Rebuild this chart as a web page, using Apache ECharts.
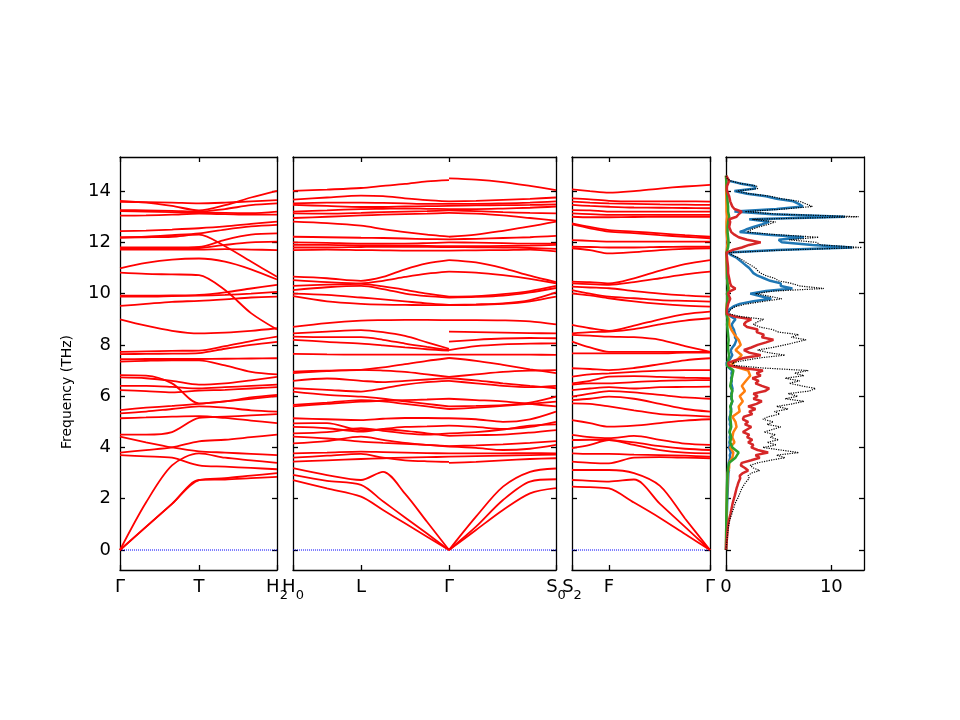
<!DOCTYPE html>
<html>
<head>
<meta charset="utf-8">
<script src="https://cdn.jsdelivr.net/npm/echarts@6/dist/echarts.min.js"></script>
<style>html,body{margin:0;padding:0;background:#fff}#main{width:960px;height:720px}</style>
</head>
<body>
<div id="main"></div>
<script>
// path positions and high-symmetry labels per panel (subscript after "_")
var kGTH = [0, 26, 52, 79, 105, 131, 157];
var tickGTH = [0, 79, 157];
var labGTH = ['Γ', 'T', 'H_2'];

var kHLGS = [0, 34, 68, 90, 112, 134, 156, 156, 183, 210, 237, 263]; // Γ twice (left/right limit)
var tickHLGS = [0, 68, 156, 263];
var labHLGS = ['H_0', 'L', 'Γ', 'S_0'];

var kSFG = [0, 18, 37, 62, 88, 113, 138];
var tickSFG = [0, 37, 138];
var labSFG = ['S_2', 'F', 'Γ'];

var freqTicks = [0, 2, 4, 6, 8, 10, 12, 14];
var dosTicks = [0, 10];

// bands, THz
var bandsGTH = [
  [13.62, 13.55, 13.42, 13.25, 13.45, 13.75, 14.01],
  [13.58, 13.57, 13.55, 13.52, 13.55, 13.6, 13.65],
  [13.26, 13.25, 13.23, 13.2, 13.3, 13.45, 13.52],
  [13.22, 13.2, 13.18, 13.16, 13.15, 13.14, 13.2],
  [13.04, 13.05, 13.08, 13.12, 13.1, 13.08, 13.08],
  [12.44, 12.46, 12.5, 12.55, 12.62, 12.72, 12.81],
  [12.19, 12.22, 12.28, 12.35, 12.5, 12.62, 12.68],
  [12.19, 12.2, 12.22, 12.3, 11.85, 11.25, 10.66],
  [11.8, 11.8, 11.8, 11.82, 12.1, 12.3, 12.35],
  [11.75, 11.75, 11.76, 11.78, 11.9, 12.0, 12.03],
  [11.72, 11.72, 11.72, 11.72, 11.74, 11.72, 11.7],
  [10.99, 11.2, 11.33, 11.37, 11.25, 10.95, 10.55],
  [10.82, 10.77, 10.75, 10.72, 10.14, 9.24, 8.6],
  [9.92, 9.92, 9.93, 9.95, 10.05, 10.2, 10.34],
  [9.88, 9.88, 9.9, 9.92, 9.95, 10.0, 10.07],
  [9.52, 9.6, 9.68, 9.72, 9.78, 9.85, 9.88],
  [9.0, 8.75, 8.55, 8.45, 8.48, 8.55, 8.65],
  [7.73, 7.75, 7.77, 7.78, 7.95, 8.15, 8.32],
  [7.64, 7.65, 7.66, 7.68, 7.85, 8.0, 8.12],
  [7.44, 7.45, 7.45, 7.45, 7.46, 7.47, 7.48],
  [7.35, 7.38, 7.4, 7.4, 7.2, 6.95, 6.85],
  [6.82, 6.8, 6.5, 5.72, 5.8, 5.95, 6.05],
  [6.73, 6.7, 6.6, 6.45, 6.5, 6.62, 6.75],
  [6.4, 6.4, 6.36, 6.3, 6.35, 6.4, 6.45],
  [6.24, 6.2, 6.15, 6.22, 6.25, 6.3, 6.35],
  [5.46, 5.55, 5.62, 5.7, 5.8, 5.9, 6.0],
  [5.33, 5.4, 5.5, 5.6, 5.55, 5.45, 5.4],
  [5.14, 5.17, 5.2, 5.22, 5.15, 5.05, 4.95],
  [4.5, 4.5, 4.6, 5.15, 5.2, 5.25, 5.3],
  [4.42, 4.2, 4.0, 3.85, 3.8, 3.75, 3.7],
  [3.8, 3.9, 4.0, 4.24, 4.3, 4.4, 4.5],
  [3.7, 3.65, 3.6, 3.3, 3.25, 3.2, 3.15],
  [0, 1.85, 3.3, 3.77, 3.6, 3.5, 3.4],
  [0, 0.9, 1.8, 2.73, 2.8, 2.9, 3.0],
  [0, 0.9, 1.8, 2.73, 2.75, 2.8, 2.85]
];

var bandsHLGS = [
  [14.01, 14.06, 14.12, 14.2, 14.28, 14.38, 14.43, 14.5, 14.45, 14.35, 14.2, 14.04],
  [13.67, 13.75, 13.82, 13.8, 13.72, 13.65, 13.6, 13.6, 13.62, 13.66, 13.7, 13.75],
  [13.52, 13.55, 13.55, 13.54, 13.52, 13.5, 13.5, 13.5, 13.5, 13.52, 13.55, 13.6],
  [13.46, 13.42, 13.38, 13.38, 13.4, 13.41, 13.42, 13.42, 13.44, 13.45, 13.46, 13.48],
  [13.2, 13.25, 13.3, 13.31, 13.32, 13.31, 13.3, 13.3, 13.3, 13.32, 13.35, 13.4],
  [13.13, 13.12, 13.15, 13.18, 13.2, 13.22, 13.25, 13.25, 13.22, 13.18, 13.15, 13.13],
  [12.95, 13.0, 13.05, 13.08, 13.1, 13.12, 13.15, 13.15, 13.12, 13.05, 12.95, 12.85],
  [12.81, 12.75, 12.65, 12.52, 12.4, 12.3, 12.22, 12.22, 12.3, 12.45, 12.62, 12.81],
  [12.22, 12.2, 12.18, 12.17, 12.15, 12.13, 12.12, 12.12, 12.14, 12.17, 12.2, 12.25],
  [12.0, 11.98, 11.95, 11.95, 11.95, 11.97, 12.0, 12.0, 11.99, 11.97, 11.95, 11.95],
  [11.9, 11.9, 11.88, 11.88, 11.87, 11.86, 11.85, 11.85, 11.85, 11.86, 11.87, 11.9],
  [11.8, 11.8, 11.82, 11.83, 11.83, 11.83, 11.82, 11.82, 11.81, 11.8, 11.78, 11.75],
  [11.7, 11.72, 11.7, 11.69, 11.68, 11.68, 11.68, 11.68, 11.69, 11.7, 11.72, 11.65],
  [10.66, 10.6, 10.5, 10.65, 10.95, 11.18, 11.31, 11.31, 11.22, 11.0, 10.7, 10.45],
  [10.53, 10.45, 10.4, 10.5, 10.65, 10.78, 10.86, 10.86, 10.82, 10.72, 10.58, 10.4],
  [10.3, 10.35, 10.38, 10.28, 10.15, 10.0, 9.88, 9.88, 9.9, 9.98, 10.1, 10.3],
  [10.14, 10.25, 10.3, 10.18, 10.0, 9.9, 9.85, 9.85, 9.87, 9.92, 10.05, 10.22],
  [10.0, 9.95, 9.85, 9.78, 9.7, 9.62, 9.56, 9.56, 9.58, 9.62, 9.75, 10.05],
  [9.9, 9.7, 9.6, 9.57, 9.56, 9.55, 9.55, 9.55, 9.56, 9.6, 9.7, 9.88],
  [8.7, 8.85, 8.95, 8.97, 8.98, 8.98, 8.97, 8.97, 8.97, 8.96, 8.92, 8.8],
  [8.45, 8.52, 8.58, 8.5, 8.35, 8.1, 7.85, 8.52, 8.5, 8.48, 8.46, 8.45],
  [8.32, 8.3, 8.3, 8.2, 8.05, 7.92, 7.8, 8.13, 8.2, 8.25, 8.27, 8.26],
  [8.2, 8.12, 8.05, 7.98, 7.9, 7.83, 7.78, 7.8, 7.95, 8.02, 8.05, 8.06],
  [7.65, 7.63, 7.62, 7.62, 7.62, 7.62, 7.62, 7.62, 7.62, 7.62, 7.62, 7.61],
  [6.96, 7.0, 7.03, 7.12, 7.25, 7.38, 7.49, 7.49, 7.38, 7.22, 7.05, 6.9],
  [6.9, 6.98, 7.03, 7.0, 6.95, 6.85, 6.75, 6.75, 6.85, 6.95, 7.0, 7.02],
  [6.6, 6.69, 6.6, 6.55, 6.6, 6.65, 6.7, 6.7, 6.62, 6.5, 6.4, 6.31],
  [6.31, 6.25, 6.18, 6.3, 6.45, 6.55, 6.6, 6.6, 6.5, 6.4, 6.35, 6.4],
  [6.18, 6.05, 5.98, 5.9, 5.8, 5.7, 5.6, 5.6, 5.62, 5.65, 5.75, 5.98],
  [5.66, 5.75, 5.85, 5.8, 5.7, 5.6, 5.5, 5.5, 5.55, 5.62, 5.7, 5.79],
  [5.6, 5.7, 5.79, 5.82, 5.85, 5.87, 5.9, 5.9, 5.85, 5.8, 5.7, 5.6],
  [5.14, 5.1, 5.07, 5.12, 5.15, 5.15, 5.14, 5.14, 5.1, 5.0, 5.1, 5.4],
  [4.94, 4.95, 4.68, 4.7, 4.65, 4.55, 4.45, 4.45, 4.48, 4.5, 4.58, 4.68],
  [4.8, 4.75, 4.62, 4.72, 4.8, 4.82, 4.85, 4.85, 4.8, 4.72, 4.8, 5.0],
  [4.55, 4.6, 4.75, 4.65, 4.55, 4.5, 4.55, 4.55, 4.6, 4.7, 4.85, 4.9],
  [4.42, 4.35, 4.23, 4.18, 4.14, 4.1, 4.05, 4.05, 4.08, 4.12, 4.18, 4.25],
  [4.16, 4.25, 4.42, 4.3, 4.18, 4.1, 4.03, 4.03, 3.98, 3.9, 3.95, 4.1],
  [3.77, 3.8, 3.84, 3.82, 3.8, 3.78, 3.77, 3.77, 3.77, 3.77, 3.78, 3.77],
  [3.6, 3.68, 3.75, 3.6, 3.5, 3.46, 3.44, 3.4, 3.44, 3.5, 3.55, 3.58],
  [3.45, 3.5, 3.55, 3.58, 3.6, 3.62, 3.64, 3.64, 3.66, 3.68, 3.7, 3.72],
  [3.19, 2.92, 2.73, 3.05, 2.2, 1.1, 0, 0, 1.3, 2.47, 3.05, 3.18],
  [2.93, 2.7, 2.54, 1.9, 1.27, 0.64, 0, 0, 0.91, 1.95, 2.67, 2.76],
  [2.73, 2.4, 2.08, 1.56, 1.04, 0.52, 0, 0, 0.78, 1.56, 2.21, 2.41]
];

var bandsSFG = [
  [14.07, 14.0, 13.94, 14.0, 14.1, 14.18, 14.24],
  [13.72, 13.68, 13.62, 13.6, 13.6, 13.6, 13.59],
  [13.59, 13.55, 13.52, 13.5, 13.48, 13.47, 13.46],
  [13.46, 13.42, 13.39, 13.36, 13.35, 13.34, 13.33],
  [13.26, 13.25, 13.2, 13.2, 13.2, 13.2, 13.2],
  [13.13, 13.1, 13.07, 13.07, 13.07, 13.07, 13.07],
  [13.0, 12.98, 12.98, 12.99, 13.0, 13.0, 13.0],
  [12.74, 12.6, 12.48, 12.42, 12.35, 12.28, 12.22],
  [12.7, 12.55, 12.42, 12.36, 12.28, 12.22, 12.16],
  [12.09, 12.06, 12.03, 12.03, 12.03, 12.03, 12.03],
  [11.83, 11.82, 11.8, 11.8, 11.82, 11.83, 11.83],
  [11.77, 11.7, 11.57, 11.62, 11.7, 11.75, 11.77],
  [10.47, 10.45, 10.4, 10.6, 10.9, 11.15, 11.31],
  [10.4, 10.37, 10.34, 10.45, 10.6, 10.75, 10.86],
  [10.27, 10.24, 10.21, 10.1, 10.0, 9.93, 9.88],
  [10.14, 10.0, 9.88, 9.82, 9.75, 9.72, 9.69],
  [10.01, 9.93, 9.82, 9.7, 9.6, 9.53, 9.49],
  [8.78, 8.65, 8.55, 8.75, 9.0, 9.2, 9.3],
  [8.45, 8.5, 8.52, 8.62, 8.8, 8.95, 9.04],
  [8.39, 8.36, 8.32, 8.3, 8.2, 7.95, 7.73],
  [8.13, 7.9, 7.73, 7.73, 7.73, 7.73, 7.73],
  [7.67, 7.67, 7.67, 7.67, 7.67, 7.7, 7.7],
  [7.09, 7.06, 7.02, 7.1, 7.25, 7.4, 7.48],
  [6.76, 6.85, 6.89, 6.95, 7.0, 7.02, 7.02],
  [6.5, 6.6, 6.76, 6.78, 6.75, 6.72, 6.7],
  [6.45, 6.5, 6.5, 6.55, 6.6, 6.62, 6.63],
  [6.24, 6.3, 6.35, 6.3, 6.35, 6.36, 6.37],
  [5.98, 6.1, 6.2, 6.15, 6.05, 5.95, 5.9],
  [5.85, 5.9, 5.98, 5.9, 5.7, 5.5, 5.4],
  [5.72, 5.7, 5.6, 5.45, 5.3, 5.25, 5.2],
  [5.07, 4.95, 4.81, 4.85, 4.95, 5.05, 5.1],
  [4.49, 4.4, 4.36, 4.45, 4.3, 4.15, 4.1],
  [4.29, 4.3, 4.29, 4.2, 4.05, 3.95, 3.9],
  [3.97, 4.1, 4.29, 4.1, 3.9, 3.8, 3.77],
  [3.77, 3.75, 3.75, 3.72, 3.7, 3.68, 3.64],
  [3.45, 3.4, 3.38, 3.6, 3.62, 3.6, 3.58],
  [3.12, 3.12, 3.12, 3.0, 2.5, 1.23, 0],
  [2.73, 2.7, 2.67, 2.75, 1.8, 0.9, 0],
  [2.47, 2.45, 2.4, 1.85, 1.25, 0.62, 0]
];

// density of states: fine grid (0.1 THz) for total, blue and red
var dosFreqFine = [0, 0.1, 0.2, 0.3, 0.4, 0.5, 0.6, 0.7, 0.8, 0.9, 1.0, 1.1, 1.2, 1.3, 1.4, 1.5, 1.6, 1.7, 1.8, 1.9,
  2.0, 2.1, 2.2, 2.3, 2.4, 2.5, 2.6, 2.7, 2.8, 2.9, 3.0, 3.1, 3.2, 3.3, 3.4, 3.5, 3.6, 3.7, 3.8, 3.9,
  4.0, 4.1, 4.2, 4.3, 4.4, 4.5, 4.6, 4.7, 4.8, 4.9, 5.0, 5.1, 5.2, 5.3, 5.4, 5.5, 5.6, 5.7, 5.8, 5.9,
  6.0, 6.1, 6.2, 6.3, 6.4, 6.5, 6.6, 6.7, 6.8, 6.9, 7.0, 7.1, 7.2, 7.3, 7.4, 7.5, 7.6, 7.7, 7.8, 7.9,
  8.0, 8.1, 8.2, 8.3, 8.4, 8.5, 8.6, 8.7, 8.8, 8.9, 9.0, 9.1, 9.2, 9.3, 9.4, 9.5, 9.6, 9.7, 9.8, 9.9,
  10.0, 10.1, 10.2, 10.3, 10.4, 10.5, 10.6, 10.7, 10.8, 10.9, 11.0, 11.1, 11.2, 11.3, 11.4, 11.5, 11.6, 11.7, 11.8, 11.9,
  12.0, 12.1, 12.2, 12.3, 12.4, 12.5, 12.6, 12.7, 12.8, 12.9, 13.0, 13.1, 13.2, 13.3, 13.4, 13.5, 13.6, 13.7, 13.8, 13.9,
  14.0, 14.1, 14.2, 14.3, 14.4, 14.5, 14.6];
var dosTotal = [0, 0.02, 0.05, 0.07, 0.1, 0.12, 0.15, 0.17, 0.2, 0.23, 0.27, 0.32, 0.38, 0.45, 0.55, 0.62, 0.7, 0.78, 0.85, 0.95,
  1.1, 1.2, 1.3, 1.4, 1.5, 1.65, 1.8, 2.0, 2.2, 2.1, 2.4, 3.2, 2.6, 2.3, 3.0, 4.2, 5.6, 4.8, 6.9, 5.2,
  3.5, 4.8, 3.9, 5.0, 4.2, 4.7, 3.6, 4.4, 5.2, 3.9, 4.5, 3.5, 4.0, 5.1, 4.6, 5.9, 4.8, 6.3, 7.4, 5.6,
  6.8, 5.9, 7.9, 8.5, 7.2, 6.0, 7.0, 5.6, 7.4, 6.5, 7.8, 3.5, 0.8, 0.6, 1.8, 3.3, 5.6, 4.0, 3.0, 4.4,
  5.6, 6.6, 7.6, 6.2, 6.9, 5.0, 4.4, 3.2, 2.6, 3.0, 3.6, 1.5, 0.4, 0.3, 0.5, 0.9, 2.0, 3.6, 5.3, 4.1,
  2.8, 4.5, 9.3, 7.0, 6.2, 5.0, 4.6, 3.8, 3.3, 3.0, 2.8, 2.4, 2.0, 1.6, 1.2, 0.6, 0.3, 5.5, 12.9, 9.0,
  8.6, 6.0, 8.8, 4.8, 2.0, 2.4, 3.1, 4.0, 4.7, 2.5, 12.6, 5.0, 1.8, 5.5, 8.2, 7.6, 7.0, 5.3, 4.2, 2.2,
  1.0, 3.0, 2.9, 1.4, 0.4, 0.1, 0];
var dosBlue = [0, 0.005, 0.01, 0.015, 0.02, 0.025, 0.03, 0.035, 0.04, 0.045, 0.05, 0.055, 0.06, 0.07, 0.08, 0.09, 0.1, 0.105, 0.11, 0.12,
  0.13, 0.14, 0.15, 0.16, 0.17, 0.18, 0.19, 0.2, 0.21, 0.22, 0.23, 0.28, 0.25, 0.24, 0.26, 0.33, 0.4, 0.36, 0.45, 0.38,
  0.3, 0.36, 0.32, 0.38, 0.35, 0.4, 0.33, 0.37, 0.45, 0.36, 0.4, 0.32, 0.35, 0.45, 0.42, 0.5, 0.44, 0.52, 0.6, 0.5,
  0.55, 0.5, 0.58, 0.62, 0.56, 0.5, 0.55, 0.48, 0.56, 0.52, 0.6, 0.3, 0.08, 0.06, 0.3, 0.45, 0.6, 0.5, 0.45, 0.6,
  0.8, 0.9, 1.0, 0.85, 0.9, 0.8, 0.75, 0.6, 0.55, 0.7, 0.9, 0.5, 0.2, 0.2, 0.35, 0.7, 1.3, 2.6, 4.3, 3.3,
  2.3, 3.8, 6.3, 5.2, 5.2, 4.2, 3.6, 3.0, 2.6, 2.4, 2.2, 1.9, 1.6, 1.3, 1.0, 0.5, 0.2, 4.8, 12.0, 8.2,
  5.3, 5.0, 7.4, 4.0, 1.3, 1.9, 2.6, 3.4, 4.1, 2.2, 11.3, 4.4, 0.8, 4.8, 7.3, 6.9, 6.4, 4.8, 3.8, 2.0,
  0.8, 2.8, 2.7, 1.3, 0.3, 0.1, 0];
var dosRed = [0, 0.02, 0.04, 0.06, 0.08, 0.1, 0.12, 0.14, 0.16, 0.18, 0.21, 0.25, 0.3, 0.36, 0.42, 0.47, 0.52, 0.57, 0.62, 0.68,
  0.75, 0.82, 0.88, 0.94, 1.0, 1.08, 1.15, 1.25, 1.35, 1.3, 1.6, 2.1, 1.8, 1.4, 1.5, 2.4, 3.2, 2.8, 4.0, 3.0,
  2.4, 2.6, 2.1, 2.5, 2.0, 2.2, 1.6, 2.0, 2.4, 1.8, 2.1, 1.6, 1.7, 2.5, 2.2, 2.8, 2.1, 2.9, 3.4, 2.6,
  3.0, 2.6, 3.7, 4.1, 3.4, 2.8, 3.1, 2.5, 3.3, 2.9, 3.5, 1.6, 0.3, 0.2, 0.9, 1.8, 3.3, 2.2, 1.7, 2.4,
  3.0, 3.8, 4.5, 3.4, 3.6, 2.9, 3.0, 2.0, 1.7, 1.9, 2.4, 0.9, 0.1, 0.08, 0.1, 0.15, 0.2, 0.3, 0.4, 0.3,
  0.2, 0.4, 0.9, 0.5, 0.4, 0.35, 0.3, 0.25, 0.2, 0.2, 0.2, 0.18, 0.15, 0.12, 0.1, 0.07, 0.05, 0.6, 1.5, 2.2,
  3.3, 2.0, 1.2, 0.8, 0.5, 0.4, 0.3, 0.35, 0.4, 0.3, 1.0, 1.2, 1.5, 0.8, 0.6, 0.5, 0.4, 0.35, 0.3, 0.2,
  0.1, 0.08, 0.1, 0.2, 0.3, 0.15, 0.05];

// coarse grid (0.2 THz) for orange and green
var dosFreq = [0, 0.2, 0.4, 0.6, 0.8, 1.0, 1.2, 1.4, 1.6, 1.8, 2.0, 2.2, 2.4, 2.6, 2.8, 3.0, 3.2, 3.4, 3.6, 3.8,
  4.0, 4.2, 4.4, 4.6, 4.8, 5.0, 5.2, 5.4, 5.6, 5.8, 6.0, 6.2, 6.4, 6.6, 6.8, 7.0, 7.2, 7.4, 7.6, 7.8,
  8.0, 8.2, 8.4, 8.6, 8.8, 9.0, 9.2, 9.4, 9.6, 9.8, 10.0, 10.2, 10.4, 10.6, 10.8, 11.0, 11.2, 11.4, 11.6, 11.8,
  12.0, 12.2, 12.4, 12.6, 12.8, 13.0, 13.2, 13.4, 13.6, 13.8, 14.0, 14.2, 14.4, 14.6];
var dosOrange = [0, 0.005, 0.01, 0.015, 0.02, 0.03, 0.04, 0.05, 0.06, 0.07, 0.08, 0.09, 0.1, 0.12, 0.14, 0.16, 0.3, 0.3, 0.6, 0.7,
  0.4, 0.8, 0.6, 0.7, 1.0, 0.9, 0.6, 1.3, 1.2, 1.6, 1.3, 1.8, 1.5, 1.9, 2.3, 2.1, 0.4, 1.0, 1.5, 0.9,
  1.4, 1.2, 0.8, 0.5, 0.3, 0.3, 0.05, 0.05, 0.08, 0.15, 0.1, 0.3, 0.15, 0.1, 0.08, 0.06, 0.05, 0.04, 0.03, 0.1,
  0.15, 0.1, 0.05, 0.05, 0.05, 0.1, 0.05, 0.05, 0.04, 0.03, 0.02, 0.02, 0.02, 0];
var dosGreen = [0, 0.005, 0.01, 0.015, 0.02, 0.025, 0.03, 0.04, 0.05, 0.06, 0.07, 0.08, 0.09, 0.1, 0.12, 0.15, 0.2, 0.3, 0.9, 1.2,
  0.6, 0.4, 0.5, 0.35, 0.5, 0.45, 0.4, 0.5, 0.4, 0.6, 0.5, 0.6, 0.4, 0.5, 0.6, 0.7, 0.1, 0.2, 0.3, 0.2,
  0.2, 0.25, 0.2, 0.15, 0.1, 0.15, 0.05, 0.05, 0.1, 0.15, 0.1, 0.2, 0.15, 0.1, 0.1, 0.1, 0.08, 0.07, 0.05, 0.2,
  0.25, 0.2, 0.15, 0.15, 0.2, 0.3, 0.2, 0.2, 0.15, 0.12, 0.08, 0.05, 0.03, 0];

var FONT = 'DejaVu Sans';
var YMIN = -0.78, YMAX = 15.33;

var panels = [
  { left: 120, width: 157, k: kGTH, ticks: tickGTH, labels: labGTH, bands: bandsGTH, split: 0 },
  { left: 293, width: 263, k: kHLGS, ticks: tickHLGS, labels: labHLGS, bands: bandsHLGS, split: 7 },
  { left: 572, width: 138, k: kSFG, ticks: tickSFG, labels: labSFG, bands: bandsSFG, split: 0 }
];

var grids = [], xAxes = [], yAxes = [], series = [];

function frameAxis(extra) {
  var a = {
    axisLine: { show: true, onZero: false, lineStyle: { color: '#000', width: 1.3 } },
    axisTick: { show: true, inside: true, length: 5, lineStyle: { color: '#000', width: 1.3 } },
    axisLabel: { show: false },
    splitLine: { show: false }
  };
  for (var key in extra) a[key] = extra[key];
  return a;
}

function addYAxes(g, withLabels) {
  var left = frameAxis({ type: 'value', gridIndex: g, position: 'left', min: YMIN, max: YMAX });
  left.axisTick.customValues = freqTicks;
  if (withLabels) {
    left.axisLabel = { show: true, customValues: freqTicks, color: '#000', fontSize: 18, fontFamily: FONT, margin: 9,
      formatter: function (v) { return String(v); } };
  }
  var right = frameAxis({ type: 'value', gridIndex: g, position: 'right', min: YMIN, max: YMAX });
  right.axisTick.customValues = freqTicks;
  yAxes.push(left, right);
}

// "H_2" -> main letter plus a lowered, smaller subscript
function kLabel(s) {
  var parts = s.split('_');
  return parts.length > 1 ? '{m|' + parts[0] + '}{s|' + parts[1] + '}' : '{m|' + s + '}';
}

panels.forEach(function (p, g) {
  grids.push({ left: p.left, width: p.width, top: 157, height: 413, containLabel: false, outerBoundsMode: 'none' });
  var kmax = p.k[p.k.length - 1];
  var bottom = frameAxis({ type: 'value', gridIndex: g, position: 'bottom', min: 0, max: kmax });
  bottom.axisTick.customValues = p.ticks;
  bottom.axisLabel = {
    show: true, customValues: p.ticks, color: '#000', fontSize: 18, fontFamily: FONT, margin: 8, hideOverlap: false,
    verticalAlign: 'top',
    formatter: function (v) { return kLabel(p.labels[p.ticks.indexOf(v)]); },
    rich: {
      m: { fontSize: 18, fontFamily: FONT, color: '#000', verticalAlign: 'top', lineHeight: 20 },
      s: { fontSize: 13, fontFamily: FONT, color: '#000', verticalAlign: 'top', lineHeight: 13, padding: [11, 0, 0, 0] }
    }
  };
  var top = frameAxis({ type: 'value', gridIndex: g, position: 'top', min: 0, max: kmax });
  top.axisTick.customValues = p.ticks;
  xAxes.push(bottom, top);
  addYAxes(g, g === 0);

  // zero line
  series.push({
    type: 'line', xAxisIndex: 2 * g, yAxisIndex: 2 * g, data: [[0, 0], [kmax, 0]],
    symbol: 'none', silent: true, z: 1,
    lineStyle: { color: '#0000ff', width: 1, type: 'dotted' }
  });

  p.bands.forEach(function (b) {
    var pts = b.map(function (f, i) { return [p.k[i], f]; });
    var parts = p.split ? [pts.slice(0, p.split), pts.slice(p.split)] : [pts];
    parts.forEach(function (part) {
      series.push({
        type: 'line', xAxisIndex: 2 * g, yAxisIndex: 2 * g, data: part,
        smooth: 0.3, symbol: 'none', silent: true, z: 2,
        lineStyle: { color: '#ff0000', width: 1.8 }
      });
    });
  });
});

// DOS panel
grids.push({ left: 726, width: 138, top: 157, height: 413, containLabel: false, outerBoundsMode: 'none' });
var dosBottom = frameAxis({ type: 'value', gridIndex: 3, position: 'bottom', min: 0, max: 13.1 });
dosBottom.axisTick.customValues = dosTicks;
dosBottom.axisLabel = { show: true, customValues: dosTicks, color: '#000', fontSize: 18, fontFamily: FONT, margin: 8,
  formatter: function (v) { return String(v); } };
var dosTop = frameAxis({ type: 'value', gridIndex: 3, position: 'top', min: 0, max: 13.1 });
dosTop.axisTick.customValues = dosTicks;
xAxes.push(dosBottom, dosTop);
addYAxes(3, false);

function dosLine(freqs, values, color, width, type, z) {
  return {
    type: 'line', xAxisIndex: 6, yAxisIndex: 6, symbol: 'none', silent: true, z: z,
    data: values.map(function (v, i) { return [v, freqs[i]]; }),
    lineStyle: { color: color, width: width, type: type }
  };
}
series.push(dosLine(dosFreqFine, dosBlue, '#1f77b4', 2.5, 'solid', 2));
series.push(dosLine(dosFreq, dosOrange, '#ff7f0e', 2.5, 'solid', 3));
series.push(dosLine(dosFreq, dosGreen, '#2ca02c', 2.5, 'solid', 4));
series.push(dosLine(dosFreqFine, dosRed, '#d62728', 2.5, 'solid', 5));
series.push(dosLine(dosFreqFine, dosTotal, '#000000', 1.2, 'dotted', 6));

var chart = echarts.init(document.getElementById('main'), null, { renderer: 'canvas' });
chart.setOption({
  backgroundColor: '#fff',
  animation: false,
  grid: grids,
  xAxis: xAxes,
  yAxis: yAxes,
  series: series,
  graphic: [{
    type: 'text', x: 67, y: 392, rotation: Math.PI / 2, silent: true,
    style: { text: 'Frequency (THz)', fill: '#000', font: '14px "DejaVu Sans"', align: 'center', verticalAlign: 'middle' }
  }]
});
</script>
</body>
</html>
